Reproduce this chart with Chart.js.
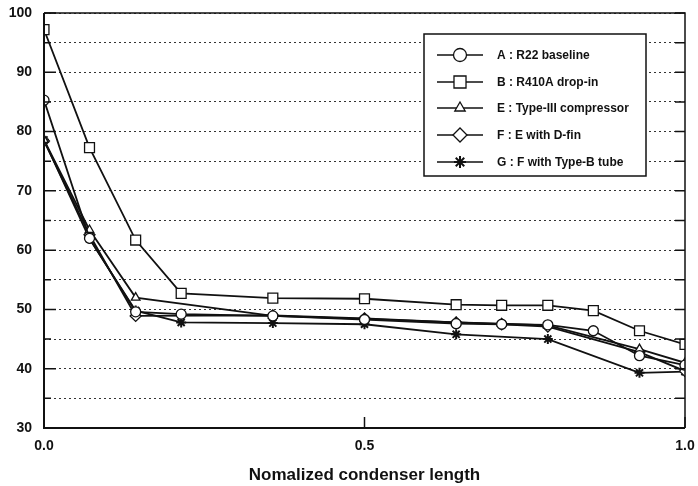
<!DOCTYPE html>
<html>
<head>
<meta charset="utf-8">
<script src="https://cdn.jsdelivr.net/npm/chart.js@4.4.0/dist/chart.umd.min.js"></script>
<style>
  html, body { margin: 0; padding: 0; background: #fff; }
  canvas { display: block; }
</style>
</head>
<body>
<canvas id="c" width="698" height="486"></canvas>
<script>
// ---- data ----
const xValues = [0, 0.071, 0.143, 0.214, 0.357, 0.5, 0.643, 0.714, 0.786, 0.857, 0.929, 1.0];
const seriesA = [85.3, 62.0, 49.6, 49.2, 48.9, 48.3, 47.6, 47.5, 47.4, 46.4, 42.2, 40.6];
const seriesB = [97.2, 77.3, 61.7, 52.7, 51.9, 51.8, 50.8, 50.7, 50.7, 49.8, 46.4, 44.1];
const seriesE = [78.6, 63.4, 52.0, null, 48.9, 48.4, 47.8, 47.6, 47.3, null, 43.3, 41.0];
const seriesF = [78.4, 62.6, 48.9, null, 49.0, 48.5, 47.8, 47.5, 47.1, null, 42.8, 39.6];
const seriesG = [78.6, 61.9, 49.8, 47.8, 47.7, 47.5, 45.8, null, 45.0, null, 39.3, 39.5];
const seriesLabels = ['A : R22 baseline', 'B : R410A drop-in', 'E : Type-III compressor', 'F : E with D-fin', 'G : F with Type-B tube'];
const xTickLabels = ['0.0', '0.5', '1.0'];
const yTickLabels = ['30', '40', '50', '60', '70', '80', '90', '100'];
const xTitle = 'Nomalized condenser length';

const pts = (arr) => xValues.map((x, i) => ({ x: x, y: arr[i] }));
const styles = [
  { pointStyle: 'circle', radius: 5, legendRadius: 6.5 },
  { pointStyle: 'rect', radius: 7, legendRadius: 8.5 },
  { pointStyle: 'triangle', radius: 5, legendRadius: 6 },
  { pointStyle: 'rectRot', radius: 5.5, legendRadius: 7 },
  { pointStyle: 'star', radius: 5, legendRadius: 6 }
];
const allSeries = [seriesA, seriesB, seriesE, seriesF, seriesG];

const datasets = allSeries.map((s, i) => ({
  label: seriesLabels[i],
  data: pts(s),
  borderColor: '#111',
  backgroundColor: '#fff',
  borderWidth: 1.8,
  pointStyle: styles[i].pointStyle,
  pointRadius: styles[i].radius,
  pointBorderWidth: i === 4 ? 2 : 1.3,
  pointBorderColor: '#111',
  pointBackgroundColor: '#fff',
  spanGaps: true,
  tension: 0
}));

const FONT = "'Liberation Sans', Arial, sans-serif";

const framePlugin = {
  id: 'frame',
  afterDraw(chart) {
    const { ctx, chartArea: a, scales } = chart;
    ctx.save();
    ctx.strokeStyle = '#111';
    ctx.lineWidth = 1.5;
    ctx.beginPath();
    ctx.moveTo(a.left, a.top); ctx.lineTo(a.right, a.top); ctx.lineTo(a.right, a.bottom);
    ctx.stroke();
    ctx.lineWidth = 2;
    ctx.beginPath();
    ctx.moveTo(a.left, a.top); ctx.lineTo(a.left, a.bottom); ctx.lineTo(a.right, a.bottom);
    ctx.stroke();
    ctx.lineWidth = 1.5;
    const ys = scales.y;
    ys.ticks.forEach(t => {
      const py = ys.getPixelForValue(t.value);
      const major = t.value % 10 === 0;
      ctx.beginPath();
      ctx.moveTo(a.left, py); ctx.lineTo(a.left + (major ? 12 : 7), py);
      ctx.moveTo(a.right, py); ctx.lineTo(a.right - 10, py);
      ctx.stroke();
    });
    const xs = scales.x;
    xs.ticks.forEach(t => {
      const px = xs.getPixelForValue(t.value);
      ctx.beginPath();
      ctx.moveTo(px, a.bottom); ctx.lineTo(px, a.bottom - 11);
      ctx.stroke();
    });
    // legend box
    const bx = 424, by = 34, bw = 222, bh = 142;
    ctx.fillStyle = '#fff';
    ctx.fillRect(bx, by, bw, bh);
    ctx.lineWidth = 1.5;
    ctx.strokeRect(bx, by, bw, bh);
    const rowY = [55, 82, 108, 135, 162];
    chart.data.datasets.forEach((ds, i) => {
      const y = rowY[i];
      ctx.lineWidth = 1.6;
      ctx.strokeStyle = '#111';
      ctx.setLineDash([]);
      ctx.beginPath();
      ctx.moveTo(437, y); ctx.lineTo(483, y);
      ctx.stroke();
      ctx.fillStyle = '#fff';
      ctx.strokeStyle = '#111';
      ctx.lineWidth = i === 4 ? 2 : 1.3;
      Chart.helpers.drawPoint(ctx, { pointStyle: styles[i].pointStyle, radius: styles[i].legendRadius, rotation: 0, borderWidth: ctx.lineWidth }, 460, y);
      ctx.fillStyle = '#111';
      ctx.font = "bold 12px " + FONT;
      ctx.textBaseline = 'middle';
      ctx.textAlign = 'left';
      ctx.fillText(ds.label, 497, y + 1);
    });
    ctx.restore();
  }
};

new Chart(document.getElementById('c'), {
  type: 'line',
  data: { datasets: datasets },
  options: {
    responsive: false,
    animation: false,
    devicePixelRatio: 1,
    layout: { padding: { left: 0, right: 13, top: 13, bottom: 0 } },
    plugins: { legend: { display: false }, tooltip: { enabled: false } },
    scales: {
      x: {
        type: 'linear',
        min: 0, max: 1,
        afterFit: (s) => { s.height = 58; s.paddingLeft = 0; s.paddingRight = 0; },
        afterBuildTicks: (s) => { s.ticks = xTickLabels.map(v => ({ value: parseFloat(v) })); },
        ticks: {
          color: '#111',
          padding: 10,
          font: { family: FONT, size: 14, weight: 'bold' },
          callback: (v) => xTickLabels.find(l => parseFloat(l) === v) || ''
        },
        grid: { display: false, drawTicks: false },
        border: { display: false },
        title: {
          display: true,
          text: xTitle,
          color: '#111',
          font: { family: FONT, size: 17, weight: 'bold' },
          padding: { top: 0, bottom: 0 }
        }
      },
      y: {
        type: 'linear',
        min: 30, max: 100,
        afterFit: (s) => { s.width = 44; s.paddingTop = 0; s.paddingBottom = 0; },
        ticks: {
          stepSize: 5,
          color: '#111',
          padding: 12,
          font: { family: FONT, size: 14, weight: 'bold' },
          callback: (v) => yTickLabels.includes(String(v)) ? String(v) : ''
        },
        grid: { color: '#333', lineWidth: 1, drawTicks: false },
        border: { display: false, dash: [2, 3] }
      }
    }
  },
  plugins: [framePlugin]
});
</script>
</body>
</html>
